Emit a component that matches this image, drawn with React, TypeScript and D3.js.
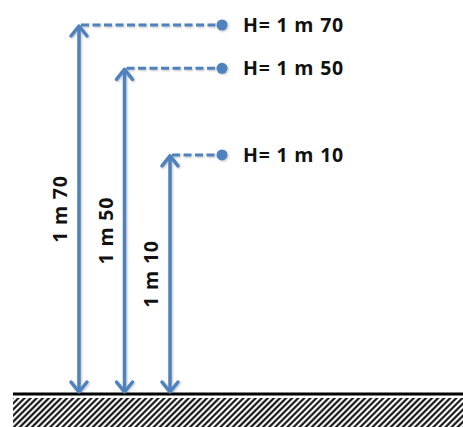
import React from 'react';
import * as d3 from 'd3';

// heights in metres
const heights = [1.7, 1.5, 1.1];
const sideLabels = ['1 m 70', '1 m 50', '1 m 10'];
const tagLabels = ['H= 1 m 70', 'H= 1 m 50', 'H= 1 m 10'];

const W = 463;
const H = 427;
const blue = '#4f81bd';
const font = '"Open Sans", sans-serif';

const App: React.FC = () => {
    const groundY = 393;
    const y = d3.scaleLinear().domain([0, 1.7]).range([groundY, 25]);
    const x = d3.scalePoint<number>()
        .domain(d3.range(heights.length))
        .range([79, 170]);
    const dotX = 222;

    const head = (cx: number, cy: number, dir: number) => {
        const path = d3.path();
        path.moveTo(cx - 8, cy + dir * 11);
        path.lineTo(cx, cy + dir * 1);
        path.lineTo(cx + 8, cy + dir * 11);
        return path.toString();
    };

    return (
        <svg width={W} height={H} style={{ position: 'absolute', left: 0, top: 0 }}>
            <defs>
                <pattern id="hatch" width="4.3" height="6" patternUnits="userSpaceOnUse"
                    patternTransform="rotate(45)">
                    <line x1="2.15" y1="0" x2="2.15" y2="6" stroke="#000" strokeWidth="2" />
                </pattern>
                <filter id="shadow" x="-20%" y="-20%" width="140%" height="140%">
                    <feDropShadow dx="1" dy="1" stdDeviation="1" floodColor="#000" floodOpacity="0.25" />
                </filter>
            </defs>
            <rect width={W} height={H} fill="#fff" />

            {/* ground */}
            <rect x={13} y={398} width={W - 13} height={H - 398} fill="url(#hatch)" />
            <line x1={13} x2={W} y1={394} y2={394} stroke="#000" strokeWidth={3} />

            {heights.map((h, i) => {
                const cx = x(i) as number;
                const top = y(h);
                return (
                    <g key={i}>
                        <g filter="url(#shadow)">
                            <line x1={cx} x2={cx} y1={top + 2} y2={groundY - 2}
                                stroke={blue} strokeWidth={3.5} />
                            <path d={head(cx, top, 1)} fill="none" stroke={blue} strokeWidth={3.5}
                                strokeLinecap="round" strokeLinejoin="round" />
                            <path d={head(cx, groundY, -1)} fill="none" stroke={blue} strokeWidth={3.5}
                                strokeLinecap="round" strokeLinejoin="round" />
                            <line x1={cx + 2} x2={dotX} y1={top} y2={top}
                                stroke={blue} strokeWidth={3} strokeDasharray="8 3.5" />
                            <circle cx={dotX} cy={top} r={5.5} fill={blue} />
                        </g>
                        <text x={243} y={top + 7} fontFamily={font} fontWeight="bold"
                            fontSize={19.5} letterSpacing={0.8} fill="#111">{tagLabels[i]}</text>
                        <text transform={`translate(${cx - 12},${(top + groundY) / 2}) rotate(-90)`}
                            textAnchor="middle" fontFamily={font} fontWeight="bold"
                            fontSize={19.5} letterSpacing={0.8} fill="#111">{sideLabels[i]}</text>
                    </g>
                );
            })}
        </svg>
    );
};

export default App;
